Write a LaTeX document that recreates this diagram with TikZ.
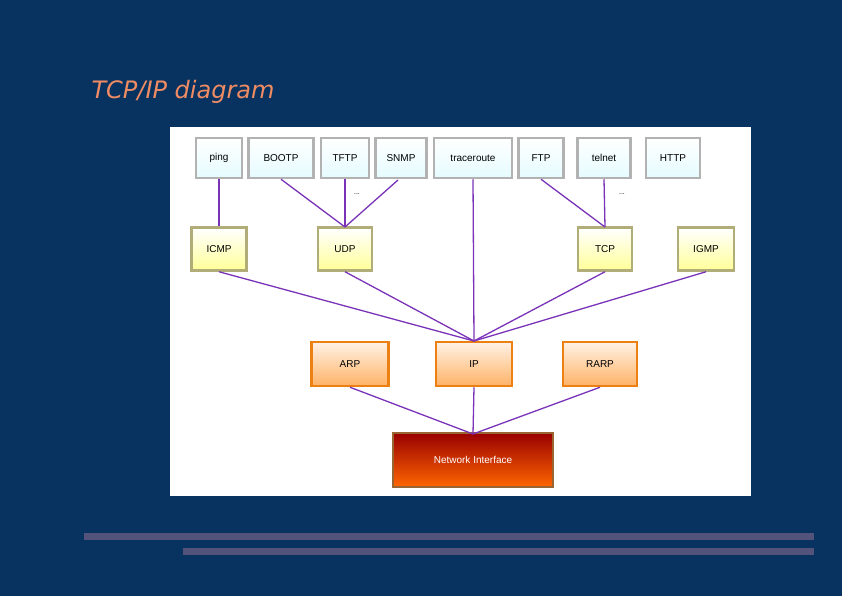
\documentclass[tikz,border=0pt]{standalone}
\usepackage{fontspec}
\setmainfont{DejaVu Sans}
\newfontfamily\boxfont{Liberation Sans}
\begin{document}
\begin{tikzpicture}[x=1pt,y=-1pt,
  box/.style={draw=#1, line width=2.5pt, inner sep=0pt, font=\boxfont\fontsize{10}{12}\selectfont, text=black, minimum height=40pt},
  app/.style={box=gray!60, top color=white, bottom color=blue!15!cyan!10},
  trn/.style={box=olive!45!gray!70, top color=white, bottom color=yellow!40},
  net/.style={box=orange!70!brown, top color=orange!10, bottom color=orange!60},
  link/.style={draw=violet!70!blue!80, line width=1.3pt}]
\fill[fill={rgb,255:red,8;green,50;blue,96}] (0,0) rectangle (842,596);
\useasboundingbox (0,0) rectangle (842,596);
\node[anchor=west, text={rgb,255:red,240;green,140;blue,100}, font=\fontsize{24}{28}\selectfont\itshape] (title) at (88,92) {TCP/IP diagram};
\fill[gray!60!blue!50!black!80] (84,533) rectangle (814,540);
\fill[gray!60!blue!50!black!80] (183,548) rectangle (814,555);
\fill[white] (170,127) rectangle (751,496);
% application layer
\node[app, minimum width=46pt] (ping) at (219,158) {ping};
\node[app, minimum width=65pt] (bootp) at (281,158) {BOOTP};
\node[app, minimum width=48pt] (tftp) at (345,158) {TFTP};
\node[app, minimum width=51pt] (snmp) at (401,158) {SNMP};
\node[app, minimum width=78pt] (trace) at (473,158) {traceroute};
\node[app, minimum width=45pt] (ftp) at (541,158) {FTP};
\node[app, minimum width=53pt] (telnet) at (604,158) {telnet};
\node[app, minimum width=54pt] (http) at (673,158) {HTTP};
% transport
\node[trn, minimum width=55pt, minimum height=43pt] (icmp) at (219,249) {ICMP};
\node[trn, minimum width=54pt, minimum height=43pt] (udp) at (345,249) {UDP};
\node[trn, minimum width=54pt, minimum height=43pt] (tcp) at (605,249) {TCP};
\node[trn, minimum width=56pt, minimum height=43pt] (igmp) at (706,249) {IGMP};
% network
\node[net, minimum width=77pt, minimum height=44pt] (arp) at (350,364) {ARP};
\node[net, minimum width=76pt, minimum height=44pt] (ip) at (474,364) {IP};
\node[net, minimum width=74pt, minimum height=44pt] (rarp) at (600,364) {RARP};
\node[box=brown!80!black, top color=red!60!black, bottom color=orange!80!red, text=white, minimum width=160pt, minimum height=54pt] (ni) at (473,460) {Network Interface};
% dots
\node[font=\boxfont\scriptsize] (d1) at (357,194) {...};
\node[font=\boxfont\scriptsize] (d2) at (622,194) {...};
% links
\coordinate (udptop) at (345,227);
\coordinate (tcptop) at (605,227);
\coordinate (iptop) at (474,341);
\coordinate (nitop) at (473,434);
\draw[link] (ping.south) -- (icmp.north);
\draw[link] (bootp.south) -- (udptop);
\draw[link] (tftp.south) -- (udptop);
\draw[link] (398,180) -- (udptop);
\draw[link] (trace.south) -- (iptop);
\draw[link] (ftp.south) -- (tcptop);
\draw[link] (telnet.south) -- (tcptop);
\draw[link] (icmp.south) -- (iptop);
\draw[link] (udp.south) -- (iptop);
\draw[link] (tcp.south) -- (iptop);
\draw[link] (igmp.south) -- (iptop);
\draw[link] (arp.south) -- (nitop);
\draw[link] (ip.south) -- (nitop);
\draw[link] (rarp.south) -- (nitop);
\end{tikzpicture}
\end{document}
